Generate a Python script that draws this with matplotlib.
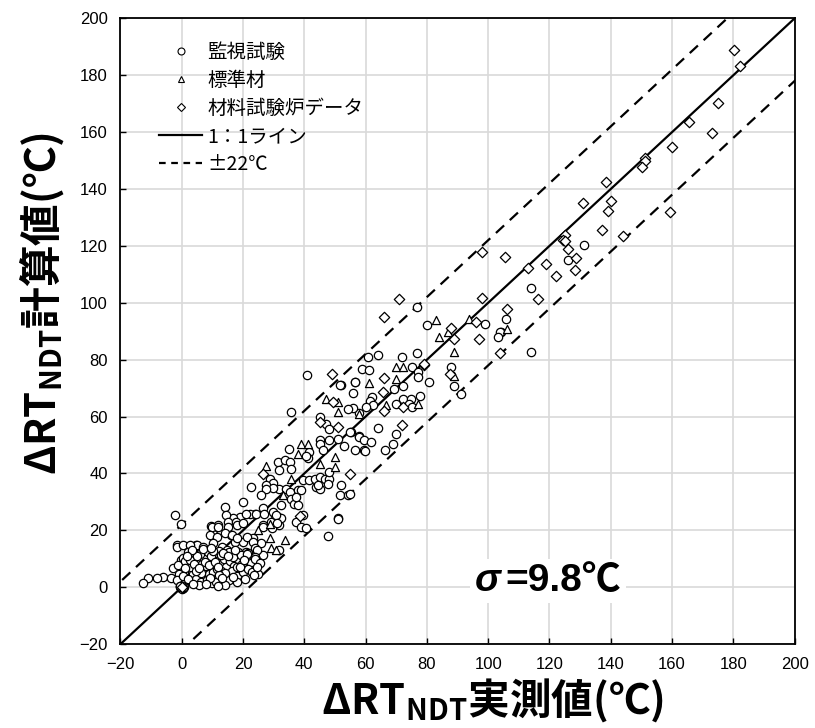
#!/usr/bin/env python3
"""
ΔRT_NDT calculated vs measured scatter (monitoring tests / standard material / MTR data)
with 1:1 line and ±22°C band.
"""

import matplotlib
matplotlib.use('Agg')
import matplotlib.pyplot as plt
from matplotlib.lines import Line2D
from matplotlib.offsetbox import TextArea, HPacker, AnchoredOffsetbox

# ---- data read off the reference (measured, calculated) ----
# 監視試験 (circles)
circ_x = [
    131.1, 126.2, 114.1, 105.8, 104.2, 99.1, 103.9, 103.2, 114.0,
    76.8, 80.1, 76.8, 71.9, 64.0, 60.8, 58.8, 61.0, 75.1, 77.0, 77.0, 80.8, 87.9, 89.0, 91.2,
    56.4, 52.1, 55.8, 72.1, 72.1, 74.9, 77.6, 74.3, 75.2, 62.0, 61.5, 62.4, 60.2, 58.0, 55.8, 54.2,
    70.0, 69.4, 64.0, 70.0, 55.3, 58.0, 40.8, 51.8, 56.7,
    35.7, 45.0, 47.2, 48.2, 45.0, 45.0, 48.2, 50.9, 54.8, 58.0, 59.6, 56.4, 59.6, 53.1, 35.0,
    41.4, 41.2, 31.4, 33.6, 35.2, 35.7, 31.9, 28.7, 29.8, 27.6, 39.5, 41.7, 43.4, 45.0, 46.6,
    48.2, 47.7, 43.9, 45.0, 22.7, 31.9, 34.1, 35.2, 38.0, 29.8, 27.6, 26.0, 35.7, 36.8, 38.0,
    20.0, 26.5, 23.8, 22.2, 18.9, 16.7, 30.3, 31.4, 29.2, 39.5, 51.5, 54.2, 50.9, 26.5, 31.9,
    68.9, 66.2, 59.9, 61.8, 52.1, 54.8, 40.6, 46.0, 48.2, 44.4, 39.0, 37.4, 32.5, 32.5, 37.4,
    39.0, 40.6, 47.8, 51.0,
    -2.3, -0.1, 14.0, 14.6, 15.1, 9.7, 11.8, -1.4, -6.1, -8.2, -11.0, -12.6, -2.8, -3.4, -0.1,
    20.9, 24.3, 27.0, 2.1, 4.8, 10.2, 17.8, 16.2, 17.3, 20.0, 23.2, 24.3, 26.0, 26.5, 29.8,
    30.9, 31.9, 21.1, 22.7, 16.7, 9.7,
    9.8, 11.9, 15.2, 17.9, 20.1, 26.6, 29.4, 31.0, 9.2, 11.4, 14.1, 16.3, 17.9, 21.2, 23.4,
    23.9, 4.9, 7.0, 10.3, 13.1, -1.6, 0.5, 2.7, 14.7, 16.3, 18.5, 20.1, 21.7, 24.5, 23.9,
    0.3, 1.8, 3.1, 4.4, 5.2, 6.6, 7.4, 8.1, 9.3, 10.5, 11.2, 12.6, 13.8, 14.5, 2.4, 3.6, 5.9,
    7.1, 8.8, 10.1, 11.7, 12.9, 0.9, 1.4, 2.9, 4.7, 6.2, 8.4, 9.9, 11.3, 13.4, 14.9, -1.2,
    -0.8, -1.5, 0.6, 4.0, 6.0, 8.7, 10.8, 12.3, 2.2, 15.8, 17.1, 18.4, 19.6, 21.0, 16.5, 18.0,
    19.9, 15.6, 17.9, 22.5, 24.0, 25.6, 20.6, 14.0, 12.0, 5.5, 3.2, 7.8, 1.0, 9.5, 23.2, 25.0,
    21.6, 0.0, 0.4, -0.3, 0.2, -0.2, 0.5, -0.5,
    1.2, 2.6, 3.9, 5.0, 6.3, 7.6, 8.9, 10.2, 11.5, 12.8, 14.1, 15.4, 16.7, 18.0, 19.3, 0.5,
    2.0, 3.4, 4.6, 6.9, 9.1, 10.9, 12.2, 13.6, 17.4, 19.0, 21.3, 22.9, 24.6, 1.6, 3.8, 5.6,
    7.9, 9.6, 11.9, 13.1, 15.1, 16.9, 20.4, 23.7,
    0.6, -0.6, 0.1, 0.0, 0.4, -0.4,
]
circ_y = [
    120.3, 115.1, 105.1, 94.2, 89.7, 92.5, 89.6, 87.8, 82.6,
    98.5, 92.1, 82.2, 80.8, 81.6, 80.8, 76.7, 76.5, 77.5, 75.5, 73.8, 72.2, 77.5, 70.6, 68.1,
    72.0, 71.1, 68.2, 70.9, 66.2, 66.2, 67.4, 64.4, 63.3, 66.8, 65.6, 63.9, 63.3, 61.2, 63.0, 62.7,
    64.4, 69.7, 55.9, 54.0, 54.5, 53.3, 74.6, 71.2, 72.0,
    61.5, 59.8, 57.4, 55.7, 51.6, 50.4, 51.6, 52.2, 54.5, 52.8, 51.6, 48.1, 48.1, 49.8, 48.7,
    47.5, 45.4, 44.0, 44.6, 44.0, 41.7, 41.1, 38.2, 36.8, 36.1, 37.6, 37.6, 38.2, 38.8, 38.2,
    38.2, 36.4, 35.3, 34.7, 35.3, 34.7, 34.7, 33.5, 34.1, 34.9, 34.7, 32.3, 31.2, 29.4, 28.8,
    30.0, 27.7, 25.9, 25.9, 24.8, 24.2, 25.3, 24.8, 23.0, 25.3, 32.3, 32.3, 24.2, 21.8, 21.8,
    50.4, 48.1, 47.9, 51.2, 35.8, 32.9, 46.3, 48.1, 40.5, 35.8, 34.1, 31.8, 28.8, 24.2, 23.0,
    21.3, 20.7, 18.0, 23.9,
    25.3, 22.4, 28.3, 25.3, 23.0, 21.6, 21.8, 14.8, 3.7, 3.4, 3.4, 1.6, 6.7, 3.2, 9.6,
    25.6, 25.9, 25.9, 14.3, 14.8, 18.9, 23.0, 18.3, 16.0, 16.0, 17.2, 14.8, 15.4, 11.3, 26.5,
    25.3, 13.1, 12.5, 6.7, 3.2, 2.0,
    21.3, 21.3, 21.3, 21.9, 22.5, 21.3, 20.7, 22.5, 18.4, 17.8, 19.0, 18.4, 17.2, 17.8, 16.0,
    13.7, 14.9, 14.3, 15.5, 14.3, 14.3, 14.9, 14.9, 13.1, 12.0, 12.5, 10.8, 12.0, 13.1, 10.8,
    10.2, 8.9, 10.6, 7.5, 9.8, 8.1, 10.4, 6.2, 9.1, 7.7, 10.1, 8.6, 9.9, 7.1, 6.3, 4.8, 5.6,
    3.9, 4.6, 5.3, 3.6, 5.9, 5.1, 3.3, 2.1, 3.0, 1.8, 2.4, 1.6, 1.9, 2.7, 4.2, 7.9,
    4.6, 2.4, 1.2, 12.1, 11.8, 12.4, 11.9, 12.6, 12.4, 9.2, 7.6, 9.8, 8.3, 9.5, 5.8, 4.1,
    5.5, 2.5, 1.9, 8.7, 9.9, 8.4, 3.0, 0.9, 0.6, 0.7, 7.0, 7.4, 9.3, 11.0, 6.0, 4.8,
    6.6, 0.0, 0.2, -0.2, -0.4, 0.4, -0.3, 0.3,
    6.8, 9.6, 8.3, 11.0, 5.1, 9.0, 7.9, 12.9, 6.4, 11.2, 5.0, 12.3, 10.5, 7.0, 11.4, 3.9,
    2.8, 13.0, 5.7, 13.4, 3.4, 8.9, 4.5, 12.0, 13.2, 7.2, 11.8, 5.4, 7.3, 10.9, 1.2, 6.9,
    1.1, 13.8, 7.1, 3.2, 11.1, 3.6, 9.7, 4.2,
    0.0, 0.1, 0.6, -0.6, -0.4, 0.4,
]

# 標準材 (triangles)
tri_x = [106.0, 93.9, 83.0, 83.8, 86.8, 89.0, 70.0, 72.1, 70.0, 89.0, 61.0, 66.7, 77.0,
         58.0, 39.0, 41.2, 38.0, 49.9, 27.4, 49.9, 45.0, 35.7, 50.9, 50.9, 33.0, 28.7,
         33.6, 29.2, 24.9, 28.7, 30.9, 47.2, 0.2]
tri_y = [90.7, 94.2, 93.9, 88.0, 89.6, 82.6, 77.3, 77.3, 73.2, 74.1, 71.8, 63.9, 64.4,
         60.9, 50.4, 50.4, 46.9, 45.8, 42.8, 42.3, 43.4, 38.2, 65.0, 61.5, 32.3, 22.4,
         16.6, 13.7, 20.1, 17.2, 13.1, 66.2, 0.1]

# 材料試験炉データ (diamonds)
dia_x = [180.3, 182.3, 175.0, 165.5, 172.9, 160.0, 151.3, 151.1, 150.2, 159.4, 138.3,
         131.0, 140.1, 139.1, 137.2, 144.0, 124.9, 124.5, 126.1, 128.5, 128.3, 118.9,
         122.2, 113.0, 116.1, 105.5, 106.0, 124.9, 97.9, 97.9, 96.0, 97.1, 103.9, 70.8,
         65.9, 87.9, 89.0, 79.2, 65.9, 65.8, 72.1, 65.9, 71.9, 87.7, 49.0, 49.3, 54.8,
         26.5, 38.5, 50.9, 45.0, 79.0, 0.0]
dia_y = [188.8, 183.3, 170.1, 163.5, 159.6, 154.6, 151.0, 150.0, 147.9, 131.9, 142.4,
         135.1, 135.9, 132.3, 125.5, 123.3, 124.0, 122.0, 118.8, 115.6, 111.5, 113.5,
         109.5, 112.2, 101.5, 116.0, 97.7, 121.6, 118.0, 101.7, 93.1, 87.2, 82.2, 101.5,
         95.1, 91.3, 87.2, 78.2, 73.4, 68.5, 63.3, 61.8, 56.9, 75.1, 75.0, 65.0, 39.9,
         39.9, 25.1, 56.3, 58.0, 78.5, 0.0]

AX_MIN, AX_MAX = -20, 200
BAND = 22
TICKS = list(range(-20, 201, 20))

LABELS = ['監視試験', '標準材', '材料試験炉データ', '1：1ライン', '±22℃']
XLABEL = 'ΔRT$_{\\mathregular{NDT}}$実測値(℃)'
YLABEL = 'ΔRT$_{\\mathregular{NDT}}$計算値(℃)'

JP = ['Noto Sans CJK JP', 'DejaVu Sans']


def main():
    fig = plt.figure(figsize=(8.15, 7.28), dpi=100)
    ax = fig.add_axes([0.1477, 0.1151, 0.8274, 0.8598])

    mk = dict(facecolors='white', edgecolors='black', linewidths=0.9, zorder=3)
    ax.scatter(circ_x, circ_y, marker='o', s=36, **mk)
    ax.scatter(tri_x, tri_y, marker='^', s=34, **mk)
    ax.scatter(dia_x, dia_y, marker='D', s=28, **mk)

    # 1:1 and ±22 lines
    ref = [AX_MIN - BAND, AX_MAX + BAND]
    ax.plot(ref, ref, color='black', lw=1.6, zorder=2)
    ax.plot(ref, [v + BAND for v in ref], color='black', lw=1.6, ls=(0, (5, 3.5)), zorder=2)
    ax.plot(ref, [v - BAND for v in ref], color='black', lw=1.6, ls=(0, (5, 3.5)), zorder=2)

    ax.set_xlim(AX_MIN, AX_MAX)
    ax.set_ylim(AX_MIN, AX_MAX)
    ax.set_xticks(TICKS)
    ax.set_yticks(TICKS)
    ax.set_xticklabels([str(t).replace('-', '−') for t in TICKS], fontsize=12, family='Liberation Sans')
    ax.set_yticklabels([str(t).replace('-', '−') for t in TICKS], fontsize=12, family='Liberation Sans')
    ax.tick_params(direction='in', length=4, width=1, pad=9)
    ax.grid(True, color='#d9d9d9', lw=1.2)
    ax.set_axisbelow(True)
    for sp in ax.spines.values():
        sp.set_linewidth(1.3)

    # legend, no frame
    handles = [
        Line2D([], [], ls='none', marker='o', mfc='white', mec='black', ms=5, mew=0.8),
        Line2D([], [], ls='none', marker='^', mfc='white', mec='black', ms=5, mew=0.8),
        Line2D([], [], ls='none', marker='D', mfc='white', mec='black', ms=4.5, mew=0.8),
        Line2D([], [], color='black', lw=1.6),
        Line2D([], [], color='black', lw=1.6, ls=(0, (3, 2.5))),
    ]
    ax.legend(handles, LABELS, loc='upper left', bbox_to_anchor=(0.058, 0.962),
              frameon=False, prop={'family': JP, 'size': 14}, handlelength=2.2,
              handletextpad=0.25, labelspacing=0.36, borderpad=0, borderaxespad=0)

    # axis titles
    fig.text(493 / 815, 1 - 700 / 728, XLABEL, ha='center', va='center',
             fontsize=30, fontweight='bold', family='Noto Sans CJK JP')
    fig.text(42 / 815, 1 - 303 / 728, YLABEL, ha='center', va='center', rotation=90,
             fontsize=30, fontweight='bold', family='Noto Sans CJK JP')

    # sigma box
    sig = TextArea('σ', textprops=dict(fontsize=28, style='italic', fontweight='bold',
                                       family='Liberation Sans'))
    val = TextArea('=9.8℃', textprops=dict(fontsize=28, fontweight='bold',
                                            family=['Liberation Sans', 'Noto Sans CJK JP']))
    box = AnchoredOffsetbox(loc='center', child=HPacker(children=[sig, val], pad=0, sep=4),
                            bbox_to_anchor=(548 / 815, 1 - 581 / 728),
                            bbox_transform=fig.transFigure, frameon=True, pad=0.3, borderpad=0)
    box.patch.set_facecolor('white')
    box.patch.set_edgecolor('none')
    box.zorder = 4
    ax.add_artist(box)

    fig.savefig('out.png', dpi=100, facecolor='white')


if __name__ == '__main__':
    main()
